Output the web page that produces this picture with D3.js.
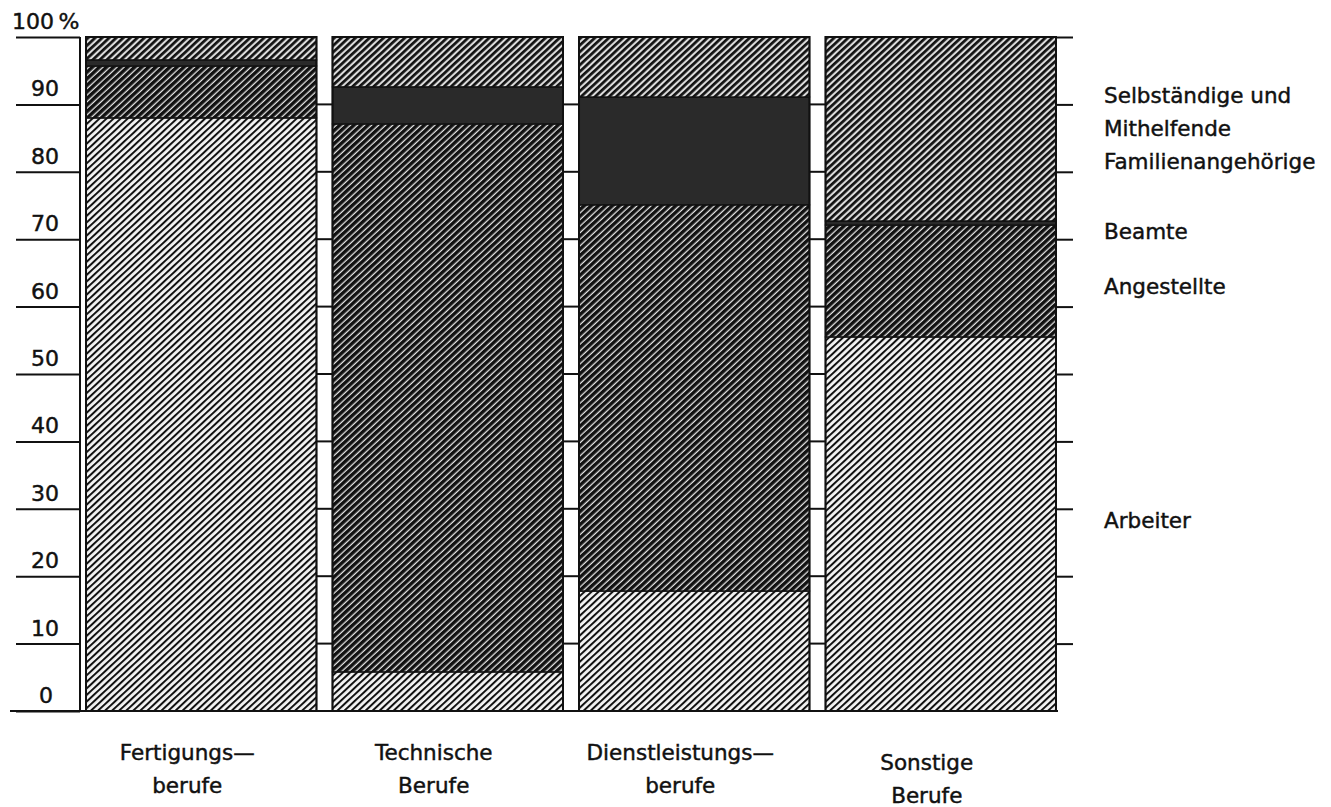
<!DOCTYPE html>
<meta charset="utf-8">
<html lang="de">
<head>
<script src="https://d3js.org/d3.v7.min.js"></script>
<style>
  body { margin: 0; background: #fff; }
  text { font-family: "DejaVu Sans", sans-serif; fill: #111; stroke: #111; stroke-width: 0.45px; }
</style>
</head>
<body>
<svg></svg>
<script>
// Berufsgruppen and Anteile (%) per Stellung im Beruf
var categories = ["Fertigungs—|berufe", "Technische|Berufe", "Dienstleistungs—|berufe", "Sonstige|Berufe"];
var seriesNames = ["Arbeiter", "Angestellte", "Beamte", "Selbständige und|Mithelfende|Familienangehörige"];
var arbeiter    = [88.0,  5.8, 17.8, 55.5];
var angestellte = [ 7.7, 81.3, 57.3, 16.6];
var beamte      = [ 0.9,  5.5, 16.0,  0.6];
var selbst      = [ 3.4,  7.4,  8.9, 27.3];
var yTicks = [0, 10, 20, 30, 40, 50, 60, 70, 80, 90, 100];

var width = 1331, height = 807;
var svg = d3.select("svg").attr("width", width).attr("height", height);

var rows = categories.map(function(c, i) {
  return {cat: c, Arbeiter: arbeiter[i], Angestellte: angestellte[i], Beamte: beamte[i], Selbst: selbst[i]};
});
var keys = ["Arbeiter", "Angestellte", "Beamte", "Selbst"];
var stack = d3.stack().keys(keys)(rows);

var y = d3.scaleLinear().domain([0, 100]).range([711, 37]);
var x = d3.scaleBand().domain(categories).range([86, 1056]).paddingInner(0.065);

// hatch patterns
var defs = svg.append("defs");
function hatch(id, bg, lineW, color, period) {
  var p = defs.append("pattern").attr("id", id)
    .attr("patternUnits", "userSpaceOnUse")
    .attr("width", period).attr("height", 10)
    .attr("patternTransform", "rotate(47)");
  p.append("rect").attr("width", period).attr("height", 10).attr("fill", bg);
  p.append("rect").attr("width", lineW).attr("height", 10).attr("fill", color);
  return p;
}
hatch("h-arb", "#f4f4f4", 2.0, "#111", 4.8);
hatch("h-ang", "#e4e4e4", 3.5, "#111", 4.8);
hatch("h-sel", "#dcdcdc", 2.7, "#111", 4.8);

var fills = {Arbeiter: "url(#h-arb)", Angestellte: "url(#h-ang)", Beamte: "#2a2a2a", Selbst: "url(#h-sel)"};

// bars
svg.append("g").selectAll("g")
  .data(stack)
  .join("g")
  .attr("fill", function(d) { return fills[d.key]; })
  .selectAll("rect")
  .data(function(d) { return d; })
  .join("rect")
  .attr("x", function(d) { return x(d.data.cat); })
  .attr("width", x.bandwidth())
  .attr("y", function(d) { return y(d[1]); })
  .attr("height", function(d) { return y(d[0]) - y(d[1]); })
  .attr("stroke", "#111")
  .attr("stroke-width", 1.4);

// bar outlines
svg.append("g").selectAll("rect")
  .data(categories)
  .join("rect")
  .attr("x", function(d) { return x(d); })
  .attr("width", x.bandwidth())
  .attr("y", y(100))
  .attr("height", y(0) - y(100))
  .attr("fill", "none")
  .attr("stroke", "#111")
  .attr("stroke-width", 2);

// ticks inside the gaps between bars
var gaps = categories.slice(0, -1).map(function(c) { return x(c) + x.bandwidth(); });
svg.append("g").selectAll("g")
  .data(gaps)
  .join("g")
  .selectAll("line")
  .data(function(g) { return yTicks.slice(1, -1).map(function(t) { return {g: g, t: t}; }); })
  .join("line")
  .attr("x1", function(d) { return d.g; })
  .attr("x2", function(d) { return d.g + x.step() - x.bandwidth(); })
  .attr("y1", function(d) { return y(d.t); })
  .attr("y2", function(d) { return y(d.t); })
  .attr("stroke", "#111").attr("stroke-width", 2);

// left axis
var left = svg.append("g").attr("transform", "translate(80,0)")
  .call(d3.axisLeft(y).tickValues(yTicks).tickSize(64).tickFormat(""));
left.select(".domain").remove();
left.selectAll(".tick line").attr("stroke", "#111").attr("stroke-width", 2);
svg.append("line").attr("x1", 80).attr("x2", 80).attr("y1", y(0)).attr("y2", y(100))
  .attr("stroke", "#111").attr("stroke-width", 2);

svg.append("g").selectAll("text")
  .data(yTicks)
  .join("text")
  .attr("x", function(d) { return d === 0 ? 53 : d === 100 ? 12 : 59; })
  .attr("y", function(d) { return y(d) - 8; })
  .attr("text-anchor", function(d) { return d === 100 ? "start" : "end"; })
  .attr("font-size", 22)
  .text(function(d) { return d === 100 ? "100\u2009%" : d; });

// baseline
svg.append("line").attr("x1", 10).attr("x2", 1058).attr("y1", y(0)).attr("y2", y(0))
  .attr("stroke", "#111").attr("stroke-width", 2);

// right ticks
var right = svg.append("g").attr("transform", "translate(1056,0)")
  .call(d3.axisRight(y).tickValues(yTicks.slice(1)).tickSize(17).tickFormat(""));
right.select(".domain").remove();
right.selectAll(".tick line").attr("stroke", "#111").attr("stroke-width", 2);

// category labels
var catG = svg.append("g").selectAll("text")
  .data(categories)
  .join("text")
  .attr("text-anchor", "middle")
  .attr("font-size", 21.5)
  .attr("transform", function(d, i) {
    return "translate(" + (x(d) + x.bandwidth() / 2 - 14) + "," + (i === 3 ? 770 : 760) + ")";
  });
catG.selectAll("tspan")
  .data(function(d) { return d.split("|"); })
  .join("tspan")
  .attr("x", 0)
  .attr("dy", function(d, i) { return i === 0 ? 0 : 33; })
  .text(function(d) { return d; });

// series labels beside the last bar
var last = categories.length - 1;
var labelShift = {Arbeiter: -3, Angestellte: 6, Beamte: 9, Selbst: 0};
var serG = svg.append("g").selectAll("text")
  .data(stack)
  .join("text")
  .attr("font-size", 21.5)
  .attr("transform", function(d, i) {
    var mid = y((d[last][0] + d[last][1]) / 2) + labelShift[d.key];
    var n = seriesNames[i].split("|").length;
    return "translate(1104," + (mid + 7 - (n - 1) * 16.5) + ")";
  });
serG.selectAll("tspan")
  .data(function(d, i) { return seriesNames[keys.indexOf(d.key)].split("|"); })
  .join("tspan")
  .attr("x", 0)
  .attr("dy", function(d, i) { return i === 0 ? 0 : 33; })
  .text(function(d) { return d; });
</script>
</body>
</html>
